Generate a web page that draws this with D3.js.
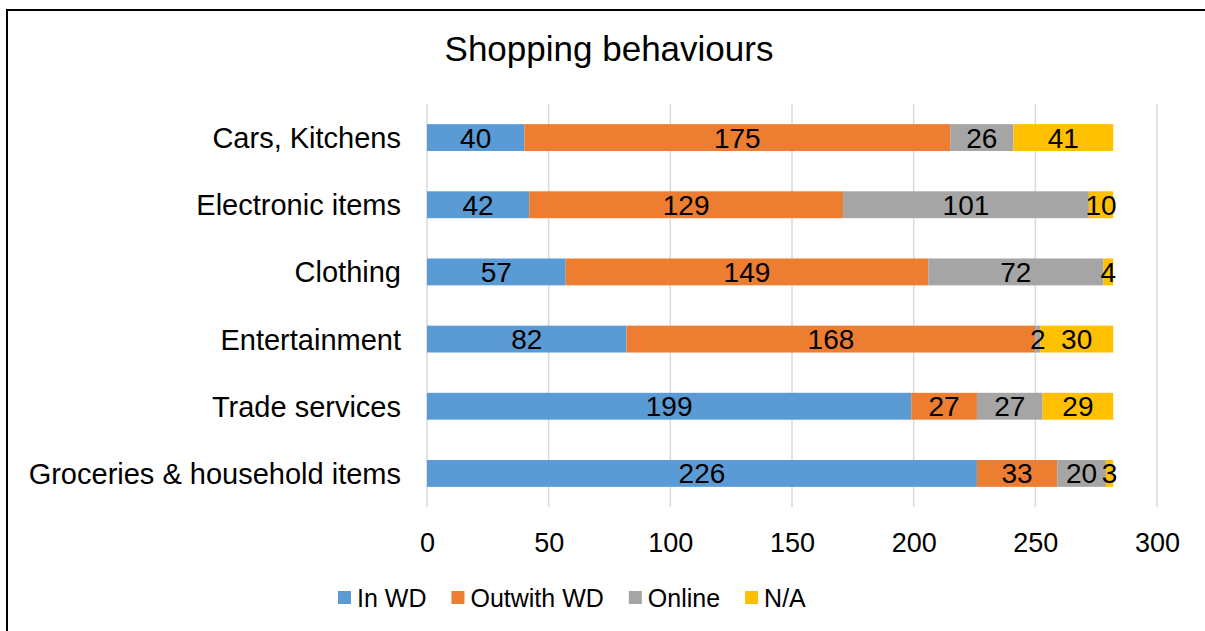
<!DOCTYPE html>
<html>
<head>
<meta charset="utf-8">
<script src="https://cdn.jsdelivr.net/npm/d3@7"></script>
<style>
	html, body { margin: 0; padding: 0; overflow: hidden; background: #fff; }
	svg { display: block; }
	text { font-family: "Liberation Sans", Arial, sans-serif; fill: #000; }
</style>
</head>
<body>
<svg></svg>
<script>
var categories = ['Cars, Kitchens', 'Electronic items', 'Clothing', 'Entertainment', 'Trade services', 'Groceries & household items']
var seriesNames = ['In WD', 'Outwith WD', 'Online', 'N/A']
var inWD = [40, 42, 57, 82, 199, 226]
var outwithWD = [175, 129, 149, 168, 27, 33]
var online = [26, 101, 72, 2, 27, 20]
var notAnswered = [41, 10, 4, 30, 29, 3]
var tickValues = [0, 50, 100, 150, 200, 250, 300]
var colors = ['#5B9BD5', '#ED7D31', '#A5A5A5', '#FFC000']

var width = 1205
var height = 631

var svg = d3.select('svg').attr('width', width).attr('height', height)

// chart frame: only its left and top edges fall inside the picture
svg.append('path')
	.attr('d', 'M7,' + height + 'V10H' + width)
	.attr('fill', 'none')
	.attr('stroke', '#000')
	.attr('stroke-width', 2)

// build rows for the stack
var rows = categories.map(function(c, i) {
	return {category: c, 'In WD': inWD[i], 'Outwith WD': outwithWD[i], 'Online': online[i], 'N/A': notAnswered[i]}
})
var stacked = d3.stack().keys(seriesNames)(rows)

var x = d3.scaleLinear().domain([0, 300]).range([427, 1157])
var y = d3.scaleBand().domain(categories).range([104, 507]).paddingInner(0.6).paddingOuter(0.3)

// vertical gridlines
svg.append('g').attr('class', 'grid')
	.selectAll('line')
	.data(tickValues)
	.enter().append('line')
	.attr('x1', function(d) {return x(d)})
	.attr('x2', function(d) {return x(d)})
	.attr('y1', 104)
	.attr('y2', 507)
	.attr('stroke', '#D9D9D9')
	.attr('stroke-width', 1.5)

// bars
var series = svg.append('g').attr('class', 'bars')
	.selectAll('g')
	.data(stacked)
	.enter().append('g')
	.attr('fill', function(d, i) {return colors[i]})

series.selectAll('rect')
	.data(function(d) {return d})
	.enter().append('rect')
	.attr('x', function(d) {return x(d[0])})
	.attr('width', function(d) {return x(d[1]) - x(d[0])})
	.attr('y', function(d) {return y(d.data.category)})
	.attr('height', y.bandwidth())

// value labels go in their own layer so they sit above every bar
var labels = svg.append('g').attr('class', 'labels')
	.selectAll('g')
	.data(stacked)
	.enter().append('g')

labels.selectAll('text')
	.data(function(d) {return d})
	.enter().append('text')
	.attr('x', function(d) {return (x(d[0]) + x(d[1])) / 2})
	.attr('y', function(d) {return y(d.data.category) + y.bandwidth() / 2})
	.attr('dy', '0.36em')
	.attr('text-anchor', 'middle')
	.style('font-size', '28px')
	.text(function(d) {return d[1] - d[0]})

// category axis (labels only)
var yAxis = svg.append('g')
	.attr('transform', 'translate(401,0)')
	.call(d3.axisLeft(y).tickSize(0).tickPadding(0))
yAxis.select('.domain').remove()
yAxis.selectAll('text')
	.attr('dy', '0.36em')
	.style('font-size', '29px')
	.style('font-family', '"Liberation Sans", Arial, sans-serif')

// value axis (labels only)
var xAxis = svg.append('g')
	.attr('transform', 'translate(0,527)')
	.call(d3.axisBottom(x).tickValues(tickValues).tickSize(0).tickPadding(0))
xAxis.select('.domain').remove()
xAxis.selectAll('text')
	.attr('dy', '0.71em')
	.attr('y', 6)
	.style('font-size', '27px')
	.style('font-family', '"Liberation Sans", Arial, sans-serif')

// title
svg.append('text')
	.attr('x', 609)
	.attr('y', 61)
	.attr('text-anchor', 'middle')
	.style('font-size', '35px')
	.text('Shopping behaviours')

// legend
var legend = svg.append('g').attr('class', 'legend')
var lx = 338
seriesNames.forEach(function(name, i) {
	legend.append('rect')
		.attr('x', lx).attr('y', 591)
		.attr('width', 13).attr('height', 13)
		.attr('fill', colors[i])
	var t = legend.append('text')
		.attr('x', lx + 19)
		.attr('y', 598)
		.attr('dy', '0.36em')
		.style('font-size', '25px')
		.text(name)
	lx = lx + 19 + t.node().getComputedTextLength() + 25
})
</script>
</body>
</html>
